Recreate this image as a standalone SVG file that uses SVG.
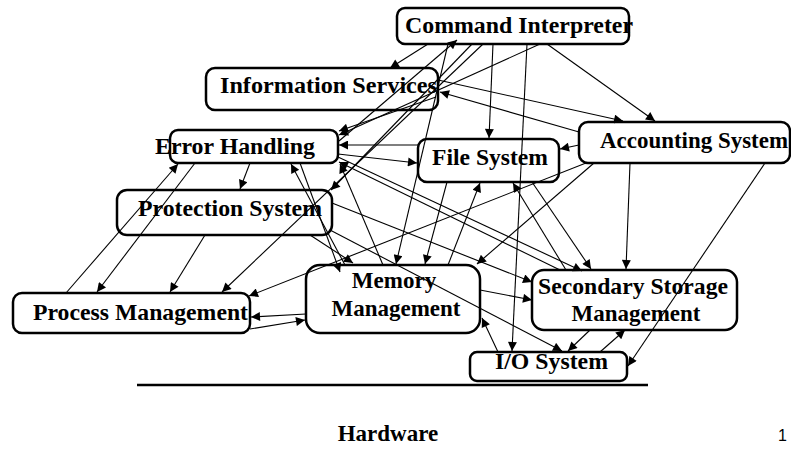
<svg xmlns="http://www.w3.org/2000/svg" width="791" height="449" viewBox="0 0 791 449">
  <style>
    .box { fill: none; stroke: #000; stroke-width: 2.5; }
    .lbl { font-family: "Liberation Serif", "Times New Roman", serif; font-weight: bold; font-size: 23px; fill: #000; }
    .edge { stroke: #000; stroke-width: 1.1; fill: none; marker-end: url(#ah); }
  </style>
  <defs>
    <marker id="ah" viewBox="0 0 10 10" refX="10" refY="5" markerWidth="12" markerHeight="9" markerUnits="userSpaceOnUse" orient="auto">
      <path d="M0,0 L10,5 L0,10 z" fill="#000"/>
    </marker>
  </defs>
  <rect width="791" height="449" fill="#fff"/>

  <g id="command-interpreter">
    <rect class="box" x="397" y="8" width="232" height="36" rx="8"/>
    <text class="lbl" x="405" y="33" textLength="228" lengthAdjust="spacingAndGlyphs">Command Interpreter</text>
  </g>
  <g id="information-services">
    <rect class="box" x="206" y="68" width="232" height="42" rx="9"/>
    <text class="lbl" x="220" y="93" textLength="217" lengthAdjust="spacingAndGlyphs">Information Services</text>
  </g>
  <g id="error-handling">
    <rect class="box" x="170" y="130" width="168" height="33" rx="8"/>
    <text class="lbl" x="155" y="154" textLength="160" lengthAdjust="spacingAndGlyphs">Error Handling</text>
  </g>
  <g id="file-system">
    <rect class="box" x="418" y="139" width="141" height="43" rx="9"/>
    <text class="lbl" x="432" y="165" textLength="116" lengthAdjust="spacingAndGlyphs">File System</text>
  </g>
  <g id="accounting-system">
    <rect class="box" x="579" y="122" width="211" height="41" rx="9"/>
    <text class="lbl" x="600" y="148" textLength="188" lengthAdjust="spacingAndGlyphs">Accounting System</text>
  </g>
  <g id="protection-system">
    <rect class="box" x="117" y="190" width="215" height="45" rx="10"/>
    <text class="lbl" x="138" y="216" textLength="184" lengthAdjust="spacingAndGlyphs">Protection System</text>
  </g>
  <g id="process-management">
    <rect class="box" x="13" y="293" width="237" height="40" rx="9"/>
    <text class="lbl" x="33" y="320" textLength="215" lengthAdjust="spacingAndGlyphs">Process Management</text>
  </g>
  <g id="memory-management">
    <rect class="box" x="306" y="265" width="174" height="68" rx="14"/>
    <text class="lbl" x="394" y="288" text-anchor="middle">Memory</text>
    <text class="lbl" x="396" y="316" text-anchor="middle">Management</text>
  </g>
  <g id="secondary-storage-management">
    <rect class="box" x="532" y="270" width="205" height="60" rx="12"/>
    <text class="lbl" x="538" y="294" textLength="190" lengthAdjust="spacingAndGlyphs">Secondary Storage</text>
    <text class="lbl" x="636" y="321" text-anchor="middle">Management</text>
  </g>
  <g id="io-system">
    <rect class="box" x="470" y="352" width="157" height="29" rx="7"/>
    <text class="lbl" x="495" y="369" textLength="113" lengthAdjust="spacingAndGlyphs">I/O System</text>
  </g>

  <g id="hardware">
    <line x1="137" y1="385" x2="648" y2="385" stroke="#000" stroke-width="2.5"/>
    <text class="lbl" x="388" y="441" text-anchor="middle">Hardware</text>
  </g>
  <text x="778" y="441" font-family="Liberation Sans, Arial, sans-serif" font-size="16" fill="#000">1</text>

  <g id="connectors">
    <line class="edge" x1="428" y1="44" x2="390" y2="68"/>
    <line class="edge" x1="339" y1="141" x2="457" y2="40"/>
    <line class="edge" x1="448" y1="44" x2="396" y2="264"/>
    <line class="edge" x1="472" y1="44" x2="331" y2="190"/>
    <line class="edge" x1="483" y1="44" x2="222" y2="292"/>
    <line class="edge" x1="493" y1="44" x2="489" y2="138"/>
    <line class="edge" x1="527" y1="44" x2="512" y2="351"/>
    <line class="edge" x1="540" y1="44" x2="339" y2="135"/>
    <line class="edge" x1="547" y1="44" x2="655" y2="121"/>
    <line class="edge" x1="438" y1="80" x2="623" y2="121"/>
    <line class="edge" x1="579" y1="132" x2="440" y2="92"/>
    <line class="edge" x1="436" y1="97" x2="339" y2="131"/>
    <line class="edge" x1="579" y1="145" x2="560" y2="149"/>
    <line class="edge" x1="586" y1="163" x2="249" y2="296"/>
    <line class="edge" x1="594" y1="163" x2="477" y2="264"/>
    <line class="edge" x1="630" y1="163" x2="626" y2="269"/>
    <line class="edge" x1="765" y1="163" x2="628" y2="366"/>
    <line class="edge" x1="418" y1="145" x2="339" y2="145"/>
    <line class="edge" x1="338" y1="154" x2="417" y2="163"/>
    <line class="edge" x1="447" y1="182" x2="425" y2="264"/>
    <line class="edge" x1="448" y1="265" x2="480" y2="183"/>
    <line class="edge" x1="566" y1="270" x2="513" y2="183"/>
    <line class="edge" x1="532" y1="182" x2="591" y2="269"/>
    <line class="edge" x1="338" y1="157" x2="582" y2="271"/>
    <line class="edge" x1="560" y1="270" x2="339" y2="162"/>
    <line class="edge" x1="383" y1="265" x2="340" y2="164"/>
    <line class="edge" x1="300" y1="163" x2="340" y2="272"/>
    <line class="edge" x1="345" y1="265" x2="291" y2="164"/>
    <line class="edge" x1="310" y1="235" x2="353" y2="263"/>
    <line class="edge" x1="332" y1="203" x2="532" y2="282"/>
    <line class="edge" x1="330" y1="230" x2="562" y2="351"/>
    <line class="edge" x1="480" y1="290" x2="532" y2="300"/>
    <line class="edge" x1="306" y1="314" x2="251" y2="317"/>
    <line class="edge" x1="250" y1="329" x2="305" y2="320"/>
    <line class="edge" x1="498" y1="352" x2="482" y2="318"/>
    <line class="edge" x1="590" y1="330" x2="568" y2="351"/>
    <line class="edge" x1="600" y1="352" x2="625" y2="330"/>
    <line class="edge" x1="250" y1="163" x2="240" y2="189"/>
    <line class="edge" x1="195" y1="163" x2="97" y2="292"/>
    <line class="edge" x1="66" y1="293" x2="178" y2="164"/>
    <line class="edge" x1="205" y1="235" x2="170" y2="292"/>
  </g>
</svg>
